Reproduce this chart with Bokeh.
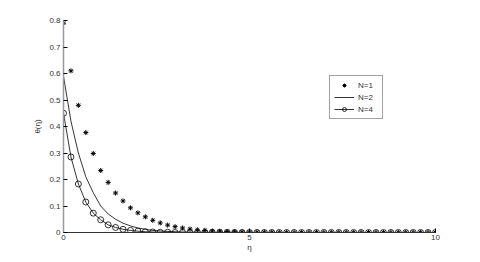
from bokeh.plotting import figure
from bokeh.models import FixedTicker, Legend, LegendItem, Range1d
from bokeh.embed import file_html
from bokeh.resources import INLINE

eta = [0.0, 0.2, 0.4, 0.6, 0.8, 1.0, 1.2, 1.4, 1.6, 1.8,
       2.0, 2.2, 2.4, 2.6, 2.8, 3.0, 3.2, 3.4, 3.6, 3.8,
       4.0, 4.2, 4.4, 4.6, 4.8, 5.0, 5.2, 5.4, 5.6, 5.8,
       6.0, 6.2, 6.4, 6.6, 6.8, 7.0, 7.2, 7.4, 7.6, 7.8,
       8.0, 8.2, 8.4, 8.6, 8.8, 9.0, 9.2, 9.4, 9.6, 9.8, 10.0]

theta_n1 = [0.79, 0.61, 0.48, 0.377, 0.298, 0.234, 0.189, 0.149, 0.119, 0.093,
            0.074, 0.059, 0.046, 0.036, 0.028, 0.022, 0.017, 0.013, 0.010, 0.008,
            0.006, 0.005, 0.004, 0.003, 0.002, 0.002, 0.001, 0.001, 0.001, 0.0,
            0.0, 0.0, 0.0, 0.0, 0.0, 0.0, 0.0, 0.0, 0.0, 0.0,
            0.0, 0.0, 0.0, 0.0, 0.0, 0.0, 0.0, 0.0, 0.0, 0.0, 0.0]

theta_n2 = [0.59, 0.42, 0.30, 0.21, 0.15, 0.10, 0.07, 0.05, 0.035, 0.025,
            0.017, 0.012, 0.008, 0.006, 0.004, 0.003, 0.002, 0.0015, 0.001, 0.001,
            0.0005, 0.0, 0.0, 0.0, 0.0, 0.0, 0.0, 0.0, 0.0, 0.0,
            0.0, 0.0, 0.0, 0.0, 0.0, 0.0, 0.0, 0.0, 0.0, 0.0,
            0.0, 0.0, 0.0, 0.0, 0.0, 0.0, 0.0, 0.0, 0.0, 0.0, 0.0]

theta_n4 = [0.45, 0.285, 0.183, 0.115, 0.073, 0.048, 0.029, 0.019, 0.012, 0.008,
            0.005, 0.003, 0.002, 0.001, 0.001, 0.0, 0.0, 0.0, 0.0, 0.0,
            0.0, 0.0, 0.0, 0.0, 0.0, 0.0, 0.0, 0.0, 0.0, 0.0,
            0.0, 0.0, 0.0, 0.0, 0.0, 0.0, 0.0, 0.0, 0.0, 0.0,
            0.0, 0.0, 0.0, 0.0, 0.0, 0.0, 0.0, 0.0, 0.0, 0.0, 0.0]

x_ticks = [0, 5, 10]
y_ticks = [0, 0.1, 0.2, 0.3, 0.4, 0.5, 0.6, 0.7, 0.8]

p = figure(width=472, height=254, output_backend="svg", toolbar_location=None,
           x_range=Range1d(0, 10), y_range=Range1d(0, 0.8),
           min_border_left=63, min_border_right=37, min_border_top=20, min_border_bottom=21)
p.outline_line_color = None
p.xgrid.visible = False
p.ygrid.visible = False
p.background_fill_color = "white"
p.border_fill_color = "white"

r1 = p.scatter(eta, theta_n1, marker="asterisk", size=5, line_color="black", line_width=1)
r2 = p.line(eta, theta_n2, line_color="black", line_width=0.8)
r4l = p.line(eta, theta_n4, line_color="black", line_width=0.8)
r4m = p.scatter(eta, theta_n4, marker="circle", size=6, fill_color=None, line_color="black", line_width=0.8)

for ax in (p.xaxis[0], p.yaxis[0]):
    ax.major_tick_in = 4
    ax.major_tick_out = 0
    ax.minor_tick_line_color = None
    ax.major_label_text_font = "Liberation Sans"
    ax.major_label_text_font_size = "8px"
    ax.major_label_text_color = "#333333"
    ax.axis_label_text_font = "Liberation Sans"
    ax.axis_label_text_font_size = "8px"
    ax.axis_label_text_font_style = "normal"
    ax.axis_label_text_color = "#333333"

p.xaxis.ticker = FixedTicker(ticks=x_ticks)
p.yaxis.ticker = FixedTicker(ticks=y_ticks)
p.xaxis.axis_label = "η"
p.yaxis.axis_label = "θ(η)"
p.xaxis.axis_line_color = "#333333"
p.yaxis.axis_line_color = "#999999"
p.yaxis.axis_line_width = 1.5
p.xaxis.major_label_standoff = 2
p.yaxis.major_label_standoff = 3
p.xaxis.axis_label_standoff = 0
p.yaxis.axis_label_standoff = 4

legend = Legend(items=[
    LegendItem(label="N=1", renderers=[r1]),
    LegendItem(label="N=2", renderers=[r2]),
    LegendItem(label="N=4", renderers=[r4l, r4m]),
], location=(266, 113))
legend.label_text_font = "Liberation Sans"
legend.label_text_font_size = "8px"
legend.label_text_color = "#333333"
legend.glyph_width = 20
legend.glyph_height = 10
legend.label_height = 10
legend.spacing = 2
legend.padding = 4
legend.margin = 0
legend.border_line_color = "#444444"
legend.border_line_width = 1
legend.label_standoff = 4
p.add_layout(legend)

open("out.html", "w").write(file_html(p, INLINE))
